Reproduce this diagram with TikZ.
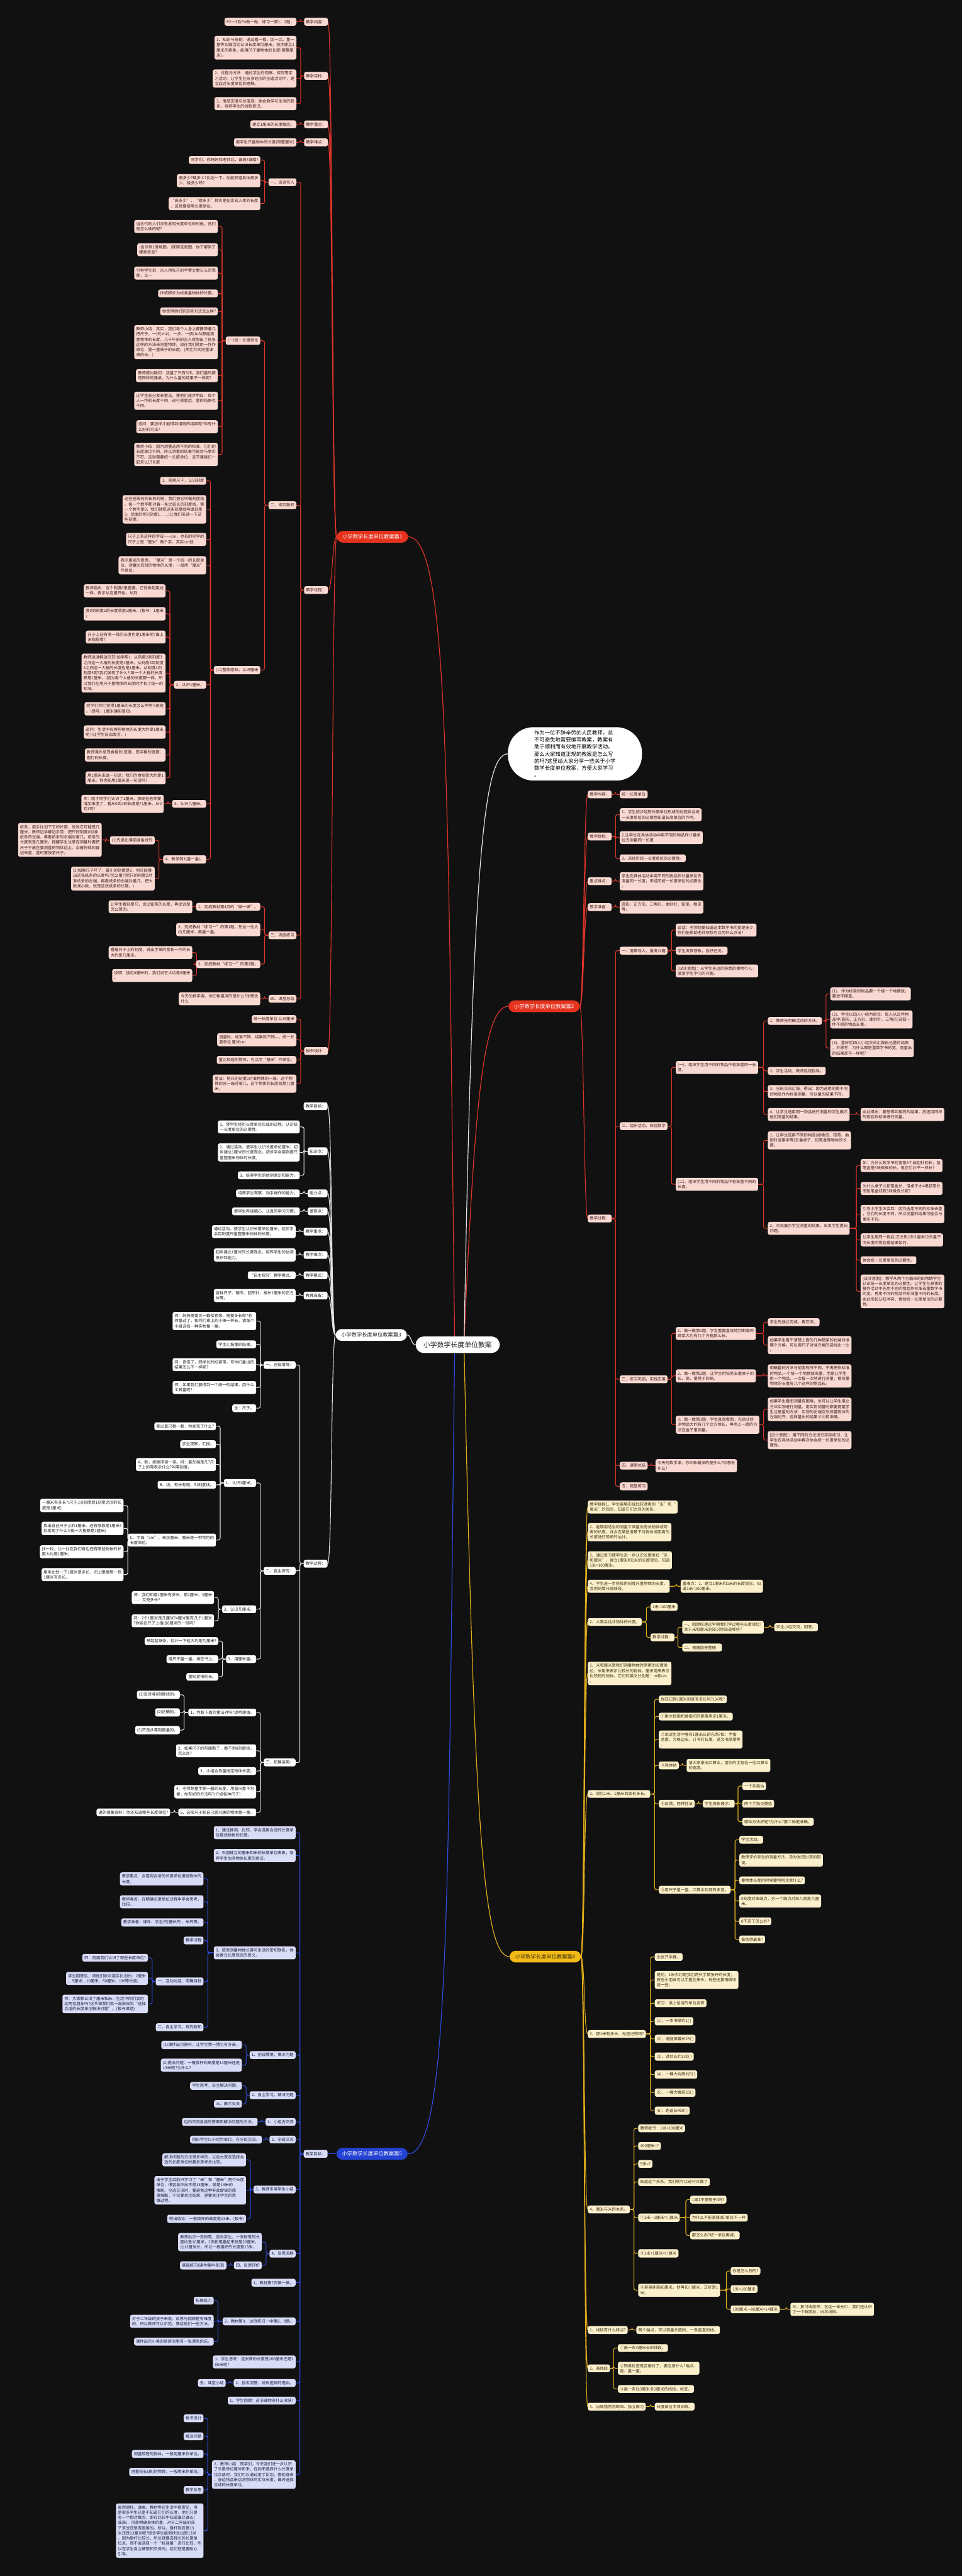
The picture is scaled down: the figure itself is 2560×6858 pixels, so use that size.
\documentclass[tikz,border=0pt]{standalone}
\usepackage{fontspec}
\setmainfont{Noto Sans CJK SC}
\usetikzlibrary{calc}
\definecolor{bgc}{HTML}{111111}
\definecolor{redL}{HTML}{E0352A}
\definecolor{redR}{HTML}{E6331E}
\definecolor{pinkF}{HTML}{FBD9D3}
\definecolor{pinkT}{HTML}{3A1E1C}
\definecolor{whiteL}{HTML}{E4E4E4}
\definecolor{whiteT}{HTML}{222222}
\definecolor{yelL}{HTML}{E2AE1C}
\definecolor{yelR}{HTML}{F2BA16}
\definecolor{creamF}{HTML}{FCF0CC}
\definecolor{creamT}{HTML}{3A2E12}
\definecolor{blueL}{HTML}{2F4CDD}
\definecolor{blueR}{HTML}{2443D4}
\definecolor{lavF}{HTML}{D9DCF7}
\definecolor{lavT}{HTML}{1C1F3C}
\pgfdeclarelayer{back}
\pgfdeclarelayer{lines}
\pgfsetlayers{back,lines,main}
\tikzset{
  lf/.style={rounded corners=2.5pt, inner xsep=2.6pt, inner ysep=2.7pt, align=left,
    font=\fontsize{5.3pt}{6.9pt}\selectfont},
  cn/.style={line width=0.9pt, rounded corners=2.5pt},
  rt/.style={rounded corners=8pt, inner xsep=7.5pt, inner ysep=4.6pt,
    font=\fontsize{6.9pt}{8pt}\selectfont},
}
\newcommand\NL[4]{\node[lf,anchor=east] (#1) at (#2,#3) {#4};}
\newcommand\NR[4]{\node[lf,anchor=west] (#1) at (#2,#3) {#4};}
\newcommand\LK[2]{\draw[cn] (#2.east) -- ++(11,0) |- (#1.west);}
\newcommand\RK[2]{\draw[cn] (#2.west) -- ++(-11,0) |- (#1.east);}
\newcommand\LC[2]{\draw[cn] (#1.west) .. controls +(-12,0) and +(12,0) .. (#2.east);}
\newcommand\RC[2]{\draw[cn] (#1.east) .. controls +(10,0) and +(-10,0) .. (#2.west);}
\begin{document}
\begin{tikzpicture}[x=0.5pt,y=-0.5pt]
\useasboundingbox (0,0) rectangle (2560,6858);
\begin{pgfonlayer}{back}
\fill[bgc] (0,0) rectangle (2560,6858);
\end{pgfonlayer}

% centre and intro
\node[fill=white, text=whiteT, rounded corners=11pt, inner xsep=10.5pt, inner ysep=6.8pt,
  font=\fontsize{9.1pt}{10pt}\selectfont] (ctr) at (1218,3580) {小学数学长度单位教案};
\node[fill=white, text=black, rounded corners=34pt, inner xsep=35pt, inner ysep=4.6pt, align=left,
  font=\fontsize{7pt}{9.25pt}\selectfont] (intro) at (1530,2007)
  {作为一位不辞辛劳的人民教师，总\\不可避免地需要编写教案，教案有\\助于顺利而有效地开展教学活动。\\那么大家知道正规的教案是怎么写\\的吗?这里给大家分享一些关于小学\\数学长度单位教案，方便大家学习\\。};

% ---------------- Branch 1 ----------------
\node[rt, fill=redR, text=white] (r1) at (991,1429) {小学数学长度单位教案篇1};
\begin{scope}[lf/.append style={fill=pinkF, text=pinkT}]
\NL{a1}{873}{58}{教学内容：}
\NL{a2}{873}{202}{教学目标：}
\NL{a3}{873}{331}{教学重点：}
\NL{a4}{873}{379}{教学难点：}
\NL{a5}{873}{1571}{教学过程：}
\NL{a6}{873}{2798}{板书设计：}
\NL{a11}{789}{58}{P2～3及P4做一做、练习一第1、2题。}
\NL{a21}{789}{127}{1、知识与技能：通过看一看、比一比、量一\\量等实践活动认识长度单位厘米，初步建立1\\厘米的表象，能用尺子量物体的长度(限整厘\\米)。}
\NL{a22}{789}{209}{2、过程与方法：通过学生的观察、探究等学\\习活动，让学生在亲身经历的创造活动中，建\\立起对长度单位的理解。}
\NL{a23}{789}{276}{3、情感态度与价值观：体会数学与生活的联\\系，培养学生的创新意识。}
\NL{a31}{789}{331}{建立1厘米的长度概念。}
\NL{a41}{789}{379}{用学生尺量物体的长度(限整厘米)}
\NL{a51}{789}{485}{一、谈话引入}
\NL{a52}{789}{1345}{二、探究新知}
\NL{a53}{789}{2490}{三、巩固练习}
\NL{a54}{789}{2659}{四、课堂总结}
\NL{a61}{789}{2713}{统一长度单位 认识厘米}
\NL{a62}{789}{2768}{测量时，标准不同，结果就不同—，统一长\\度单位 厘米cm}
\NL{a63}{789}{2822}{量比较短的物体，可以用“厘米”作单位。}
\NL{a64}{789}{2885}{量法：把尺的刻度0对准物体的一端，这个物\\体的另一端对着几，这个物体的长度就是几厘\\米。}
\NL{a511}{693}{426}{同学们，你妈妈和老师比，谁高?谁矮?}
\NL{a512}{693}{481}{高多少?矮多少?比划一下，你能知道具体高多\\少，矮多少吗?}
\NL{a513}{693}{542}{“高多少”，“矮多少”其实是在比较人体的长度\\，这就要使用长度单位。}
\NL{a521}{693}{907}{(一)统一长度单位}
\NL{a522}{693}{1784}{(二)整体感知，认识厘米}
\NL{a531}{693}{2414}{1、完成教材第4页的“做一做”。}
\NL{a532}{693}{2475}{2、完成教材“练习一”的第1题。先估一估大\\约几厘米，再量一量。}
\NL{a533}{693}{2567}{3、完成教材“练习一”的第2题。}
\NL{a541}{693}{2659}{今天的数学课，你印象最深的是什么?你想说\\什么}
\NL{b1}{580}{603}{当古代的人们没有发明长度单位的时候，他们\\是怎么做的呢?}
\NL{b2}{580}{665}{(出示例1情境图。)观察这些图，你了解到了\\哪些信息?}
\NL{b3}{580}{727}{引导学生说：古人用张开的手臂丈量石头的宽\\度，以一}
\NL{b4}{580}{781}{拃或脚长为标准量物体的长度。}
\NL{b5}{580}{829}{你觉得他们的这些方法怎么样?}
\NL{b6}{580}{911}{教师小结：其实，我们每个人身上都携带着几\\把尺子。一拃(zhǎ)、一步、一庹(tuǒ)都能测\\量物体的长度，几千年前的古人就想出了很多\\这样的方法来测量物体。现在我们就用一拃作\\单位，量一量桌子的长度。(师生共同测量课\\桌的长。)}
\NL{b7}{580}{1000}{教师提出疑问：我量了只有3拃。我们量的都\\是同样的课桌，为什么量的结果不一样呢?}
\NL{b8}{580}{1067}{让学生充分发表看法，使他们逐步明白：每个\\人一拃的长度不同，进行测量后，量的结果也\\不同。}
\NL{b9}{580}{1136}{追问：要怎样才能得到相同的结果呢?你有什\\么好的方法?}
\NL{b10}{580}{1210}{教师小结：因为测量选用不同的标准，它们的\\长度单位不同，所以测量的结果可能会与事实\\不符。这就需要统一长度单位，这节课我们一\\起来认识长度}
\NL{c1}{549}{1280}{1、观察尺子，认识刻度}
\NL{c2}{549}{1356}{这些竖线有的长有的短，我们把它叫做刻度线\\。每一个数字都对着一条比较长的刻度线，第\\一个数字是0，我们就把这条刻度线叫做刻度\\0。后面的呢?(刻度1……)让我们来读一下这\\些刻度。}
\NL{c3}{549}{1436}{尺子上有这样的字母——cm，也有的同学的\\尺子上是“厘米”两个字，其实cm就}
\NL{c4}{549}{1505}{表示厘米的意思。“厘米”是一个统一的长度单\\位。测量比较短的物体的长度，一般用“厘米”\\作单位。}
\NL{c5}{549}{1823}{2、认识1厘米。}
\NL{c6}{549}{2140}{3、认识几厘米。}
\NL{c7}{549}{2288}{4、教学例3(量一量)。}
\NL{d1}{441}{1573}{教师指出：这个刻度0很重要，它就像起跑线\\一样，表示从这里开始。从刻}
\NL{d2}{441}{1634}{度0到刻度1的长度就是1厘米。(板书：1厘米\\)}
\NL{d3}{441}{1696}{尺子上还有哪一段的长度也是1厘米呢?谁上\\来指指看?}
\NL{d4}{441}{1792}{教师边讲解边示范(加手势)：从刻度2到刻度3\\之间这一大格的长度是1厘米，从刻度3到刻度\\4之间这一大格的长度也是1厘米，从刻度4到\\刻度5呢?我们发现了什么?(每一个大格的长度\\都是1厘米。)因为每个大格的长度都一样，所\\以我们在用尺子量物体的长度时才有了统一的\\标准。}
\NL{d5}{441}{1887}{同学们你们觉得1厘米的长度怎么样啊?(很短\\。)是呀，1厘米确实很短。}
\NL{d6}{441}{1949}{追问：生活中有哪些物体的长度大约是1厘米\\呢?(让学生自由发言。)}
\NL{d7}{441}{2010}{教师课件呈现食指的.宽度、田字格的宽度、\\图钉的长度。}
\NL{d8}{441}{2071}{用1厘米来说一句话：我们的食指宽大约是1\\厘米。你也能用1厘米说一句话吗?}
\NL{e1}{436}{2140}{师：刚才同学们认识了1厘米，那现在老师要\\增加难度了，看从0到3的长度是几厘米，从0\\到7呢?}
\NL{f1}{412}{2237}{(1)先拿出课前准备好的}
\NL{f2}{412}{2339}{(2)如果尺子坏了，最小的刻度是2，你还能量\\出这张纸条的长度吗?怎么量?(把尺的刻度2对\\准纸条的左端，再看纸条的右端对着几，把大\\数减小数，就是这张纸条的长度。)}
\NL{g1}{271}{2236}{纸条，用手比划下它的长度，说说它可能是几\\厘米，教师边讲解边示范：把尺的刻度0对准\\纸条的左端，再看纸条的右端对着几，纸条的\\长度就是几厘米。提醒学生注意在测量时要把\\尺子平放在要测量的物体边上，沿着物体的直\\边来量，量时要按紧尺子。}
\NL{h1}{512}{2414}{让学生看刻度尺，说出铅笔的长度，再说说是\\怎么想的。}
\NL{h2}{512}{2536}{看着尺子上的刻度，说出手掌的宽和一拃的长\\大约是几厘米。}
\NL{h3}{512}{2597}{说明：接近8厘米的，我们说它大约是8厘米\\。}
\end{scope}

% ---------------- Branch 2 ----------------
\node[rt, fill=redR, text=white] (r2) at (1448,2679) {小学数学长度单位教案篇2};
\begin{scope}[lf/.append style={fill=pinkF, text=pinkT}]
\NR{p1}{1564}{2115}{教学内容：}
\NR{p2}{1564}{2227}{教学目标：}
\NR{p3}{1564}{2346}{重点难点：}
\NR{p4}{1564}{2415}{教学准备：}
\NR{p5}{1564}{3244}{教学过程：}
\NR{p11}{1649}{2115}{统一长度单位}
\NR{p21}{1649}{2169}{1、学生初步经历长度单位形成的过程体会统\\一长度单位的必要性知道长度单位的作用。}
\NR{p22}{1649}{2230}{2.让学生在具体活动中用不同的物品作计量单\\位去测量同一长度}
\NR{p23}{1649}{2285}{3、来经历统一长度单位的必要性。}
\NR{p31}{1649}{2346}{学生在具体活动中用不同的物品作计量单位去\\测量同一长度，来经历统一长度单位的必要性\\。}
\NR{p41}{1649}{2415}{圆形、正方形、三角形、曲别针、铅笔、橡皮\\等。}
\NR{p51}{1649}{2531}{一、情景导入，激发兴趣}
\NR{p52}{1649}{2998}{二、组织活动，体验数学}
\NR{p53}{1649}{3672}{三、练习巩固，实践应用}
\NR{p54}{1649}{3902}{四、课堂总结}
\NR{p55}{1649}{3957}{五、随堂练习}
\NR{q1}{1798}{2476}{谈话：老师想要知道这本数学书的宽是多少,\\你们能帮助老师想想可以用什么办法?}
\NR{q2}{1798}{2531}{学生发挥想象，各抒己见。}
\NR{q3}{1798}{2585}{[设计意图]：从学生身边的熟悉的事物引入，\\激发学生学习的兴趣。}
\NR{q4}{1798}{2842}{(一)、组织学生用不同的物品作标准量同一长\\度。}
\NR{q5}{1798}{3153}{(二)、组织学生用不同的物品作标准量不同的\\长度。}
\NR{q6}{1798}{3550}{1、做一做第1题，学生看图直观地判断每种\\蔬菜大约有几个方格那么长。}
\NR{q7}{1798}{3663}{2、做一做第2题，让学生用铅笔去量桌子的\\长、高，量凳子的高。}
\NR{q8}{1798}{3793}{3、做一做第3题，学生直观看图，先估计所\\测物品大约有几个立方体长，再用上一题的方\\法在盒子里测量。}
\NR{q9}{1744}{3902}{今天的数学课，你印象最深的是什么?你想说\\什么?}
\NR{s1}{2043}{2718}{1、教师先明确活动的方法。}
\NR{s2}{2043}{2851}{2、学生活动，教师巡视指导。}
\NR{s3}{2043}{2906}{3、全班交流汇报。得出：因为选用的是不同\\的物品作为标准测量，所以量的结果不同。}
\NR{s4}{2043}{2967}{4、让学生选用同一物品进行测量的学生展示\\他们测量的结果。}
\NR{s5}{2043}{3036}{1、让学生选用不同的物品(如橡皮、铅笔、曲\\别针或用手等)去量桌子、铅笔盒等物体的长\\度。}
\NR{s6}{2043}{3270}{2、交流展示学生测量的结果，启发学生提出\\问题。}
\NR{s7}{2043}{3520}{学生先独立完成，再交流。}
\NR{s8}{2043}{3581}{如果学生看不清楚上面的几种蔬菜的右端对准\\哪个方格，可以用尺子对准方格的竖线比一比\\。}
\NR{s9}{2043}{3663}{明确量的方法与前面有所不同，不再把作标准\\的物品,一个接一个地摆放来量，而是让学生\\用一个物品，一次接一次地进行测量，看所量\\物体的长度有几个这样的物品长。}
\NR{s10}{2043}{3752}{如果学生看图测量有困难，也可以让学生用立\\方体实物进行测量。用实物测量时都要提醒学\\生注意量的方法：实物的左端应与所量物体的\\左端对齐，这样量出的结果才比较准确。}
\NR{s11}{2043}{3834}{[设计意图]：用不同的方法进行实际练习，让\\学生在具体活动中再次体会统一长度单位的必\\要性。}
\NR{t1}{2209}{2646}{(1)、作为标准的物品要一个接一个地摆放，\\要放平摆直。}
\NR{t2}{2209}{2714}{(2)、学生以四人小组为单位，每人从四件物\\品中(圆形、正方形、曲别针、三角形)选取一\\件不同的物品去量。}
\NR{t3}{2209}{2790}{(3)、量好后四人小组交流汇报自己量的结果\\，并思考：为什么都是量数学书的宽，而量出\\的结果却不一样呢?}
\NR{t4}{2290}{2967}{由此得出：要想得到相同的结果，应选用同样\\的物品作标准进行测量。}
\NR{t5}{2290}{3103}{如：为什么数学书的宽是5个曲别针的长，铅\\笔盒是5块橡皮的长，但它们并不一样长?}
\NR{t6}{2290}{3164}{为什么桌子比铅笔盒长，但桌子才4根铅笔长\\而铅笔盒却有5块橡皮长呢?}
\NR{t7}{2290}{3232}{引导小学生体会到：因为选用不同的标准去量\\，它们的长度不同，所以测量的结果可能会与\\事实不符。}
\NR{t8}{2290}{3301}{让学生用同一物品(正方形)作计量单位去量不\\同长度的物品看结果如何，}
\NR{t9}{2290}{3355}{体会统一长度单位的必要性。}
\NR{t10}{2290}{3438}{[设计意图]：教学从两个方面来组织帮助学生\\认识统一长度单位的必要性。让学生在具体的\\操作活动中先用不同的物品作标准去量数学书\\的宽，再用不同的物品作标准量不同的长度。\\由此引起认知冲突，体验统一长度单位的必要\\性。}
\end{scope}

% ---------------- Branch 3 ----------------
\node[rt, fill=white, text=whiteT] (r3) at (988,3554) {小学数学长度单位教案篇3};
\begin{scope}[lf/.append style={fill=white, text=whiteT}]
\NL{w1}{872}{2945}{教学目标：}
\NL{w2}{872}{3065}{知识点：}
\NL{w3}{872}{3177}{能力点：}
\NL{w4}{872}{3225}{德育点：}
\NL{w5}{872}{3279}{教学重点：}
\NL{w6}{872}{3341}{教学难点：}
\NL{w7}{872}{3395}{教学模式：}
\NL{w8}{872}{3449}{教具准备：}
\NL{w9}{872}{4163}{教学过程：}
\NL{w21}{798}{3000}{1、使学生经历长度单位形成的过程，认识统\\一长度单位的必要性。}
\NL{w22}{798}{3068}{2、通过活动，使学生认识长度单位厘米，初\\步建立1厘米的长度观念，初步学会用刻度尺\\量整厘米物体的长度。}
\NL{w23}{798}{3129}{3、培养学生的估测意识和能力。}
\NL{w31}{798}{3177}{培养学生观察、动手操作的能力。}
\NL{w41}{798}{3225}{使学生养成细心、认真的学习习惯。}
\NL{w51}{787}{3279}{通过活动，使学生认识长度单位厘米，初步学\\会用刻度尺量整厘米物体的长度。}
\NL{w61}{787}{3341}{初步建立1厘米的长度观念，培养学生的估测\\意识和能力。}
\NL{w71}{787}{3395}{“自主探究”教学模式。}
\NL{w81}{787}{3449}{各种尺子、硬币、回形针、棱长1厘米的正方\\体等。}
\NL{w91}{787}{3634}{一、创设情境：}
\NL{w92}{787}{4182}{二、自主探究：}
\NL{w93}{787}{4692}{三、拓展运用：}
\NL{x1}{682}{3517}{师：妈妈需要买一截松紧带，需要多长呢?老\\师量过了，和你们桌上的小棒一样长，请每个\\小组选择一种实物量一量。}
\NL{x2}{682}{3579}{学生汇报量的结果。}
\NL{x3}{682}{3633}{问：奇怪了，同样长的松紧带，可你们量出的\\结果怎么不一样呢?}
\NL{x4}{682}{3694}{师：如果我们要得到一个统一的结果，用什么\\工具量呢?}
\NL{x5}{682}{3749}{生：尺子。}
\NL{y1}{682}{3948}{1、认识1厘米。}
\NL{y2}{682}{4284}{2、认识几厘米。}
\NL{y3}{682}{4417}{3、用厘米量。}
\NL{y11}{575}{3797}{拿出直尺看一看，你发现了什么?}
\NL{y12}{575}{3845}{学生观察，汇报。}
\NL{y13}{575}{3899}{A、数，按顺序读一读。问：最左端是几?尺\\子上的零表示什么?叫零刻度。}
\NL{y14}{575}{3953}{B、线，有长有短，叫刻度线。}
\NL{y15}{575}{4100}{C、字母“cm”，表示厘米，厘米是一种常用的\\长度单位。}
\NL{y151}{329}{4008}{一厘米有多长?(尺子上0刻度到1刻度之间的长\\度是1厘米)}
\NL{y152}{329}{4069}{找出自己尺子上的1厘米。还有哪段是1厘米?\\你发现了什么?(每一大格都是1厘米)}
\NL{y153}{329}{4131}{找一找，比一比在我们身边还有哪些物体的长\\度大约是1厘米。}
\NL{y154}{329}{4192}{用手比划一下1厘米是多长，闭上眼睛想一想\\1厘米有多长。}
\NL{y21}{570}{4253}{师：我们知道1厘米有多长，那2厘米、3厘米\\……又是多长?}
\NL{y22}{570}{4315}{问：2个1厘米是几厘米?4厘米里有几个1厘米\\?你能在尺子上指出6厘米的一段吗?}
\NL{y31}{581}{4369}{举起蓝纸条，估计一下他大约是几厘米?}
\NL{y32}{581}{4417}{用尺子量一量。填在书上。}
\NL{y33}{581}{4464}{量松紧带的长。}
\NL{z1}{682}{4559}{1、判断下面的量法对吗?说明理由。}
\NL{z2}{682}{4661}{2、如果尺子的前面断了，看不到0刻度线，\\怎么办?}
\NL{z3}{682}{4715}{3、小组合作量指定物体长度。}
\NL{z4}{682}{4770}{4、老师想量手腕一圈的长度，用直尺量不方\\便，你有好的方法吗?(介绍各种尺子)}
\NL{z5}{682}{4825}{5、选择尺子和自己感兴趣的物体量一量。}
\NL{z11}{479}{4512}{(1)没对准0刻度线的。}
\NL{z12}{479}{4559}{(2)正确的。}
\NL{z13}{479}{4606}{(3)不是从零刻度量的。}
\NL{z51}{453}{4825}{课外搜集资料：你还知道哪些长度单位?}
\end{scope}

% ---------------- Branch 4 ----------------
\node[rt, fill=yelR, text=creamT] (r4) at (1451,5209) {小学数学长度单位教案篇4};
\begin{scope}[lf/.append style={fill=creamF, text=creamT}]
\NR{k1}{1564}{4012}{教学目标1、学生能够形成比较清晰的“米”和“\\厘米”的观念，知道它们之间的关系。}
\NR{k2}{1564}{4079}{2、能够用适当的测量工具量出有关物体或距\\离的长度。并会在某些情景下对物体或距离的\\长度进行简单的估计。}
\NR{k3}{1564}{4154}{3、通过复习使学生进一步认识长度单位“米\\和厘米”，建立1厘米和1米的长度观念。知道\\1米=100厘米。}
\NR{k4}{1564}{4223}{4、学生进一步熟练用刻度尺量物体的长度，\\会用刻度尺画线段。}
\NR{k5}{1564}{4318}{2、大致会估计物体的长度。}
\NR{k6}{1564}{4455}{1、米和厘米是我们测量物体时常用的长度单\\位，米用来表示比较长的物体，厘米用来表示\\比较短的物体。它们的英文分别是：m和cm\\。}
\NR{k7}{1564}{4776}{2、回忆1米、1厘米到底有多长。}
\NR{k8}{1564}{5415}{3、那1米有多长，你还记得吗?}
\NR{k9}{1564}{5882}{4、厘米与米的关系。}
\NR{k10}{1564}{6203}{1、线段有什么特点?}
\NR{k11}{1564}{6305}{2、画线段}
\NR{k12}{1564}{6407}{3、出现错例判断四、独立练习}
\NR{k41}{1811}{4223}{重难点：1、建立1厘米和1米的长度观念。知\\道1米=100厘米。}
\NR{k51}{1731}{4278}{1米=100厘米}
\NR{k52}{1731}{4359}{教学过程：}
\NR{k521}{1815}{4332}{一、回顾梳理这学期我们学过哪些长度单位?\\关于米和厘米的知识你知道哪些?}
\NR{k522}{1815}{4386}{二、根据回答整理：}
\NR{k5211}{2060}{4332}{学生小组交流，回答。}
\NR{k71}{1753}{4524}{你还记得1厘米到底有多长吗?1米呢?}
\NR{k72}{1753}{4570}{①用大拇指和食指间的距离表示1厘米。}
\NR{k73}{1753}{4631}{②说说生活中哪有1厘米长的东西?如：手指\\宽度，方格边长，订书钉长度，语文书厚度等\\。}
\NR{k74}{1753}{4700}{③具体估}
\NR{k75}{1753}{4802}{④反馈，两种估法}
\NR{k76}{1753}{5031}{⑤用尺子量一量，口算本到底有多宽。}
\NR{k741}{1827}{4700}{请大家拿出口算本，用你的手指估一估口算本\\的宽度。}
\NR{k751}{1870}{4802}{学生投影展示：}
\NR{k7511}{1975}{4755}{一个手指估}
\NR{k7512}{1975}{4802}{两个手指交替估}
\NR{k7513}{1975}{4850}{哪种方法好呢?为什么?第二种更准确。}
\NR{k761}{1967}{4898}{学生活动。}
\NR{k762}{1967}{4952}{教师评价学生的测量方法，及时发现出现的错\\误。}
\NR{k763}{1967}{5006}{量物体长度的时候要特别注意什么?}
\NR{k764}{1967}{5061}{0刻度对准端点，另一个端点对准几就是几厘\\米。}
\NR{k765}{1967}{5115}{0不见了怎么办?}
\NR{k766}{1967}{5163}{谁估得最准?}
\NR{k81}{1742}{5210}{生张开手臂。}
\NR{k82}{1742}{5271}{是的，1米大约是我们两只手臂张开的长度，\\有些小朋友可以手握住拳头，有些还要稍微收\\拢一些。}
\NR{k83}{1742}{5333}{练习：填上恰当的单位名称}
\NR{k84}{1742}{5381}{(1)、一本书厚约1( )}
\NR{k85}{1742}{5428}{(2)、电脑屏幕长25( )}
\NR{k86}{1742}{5475}{(3)、讲台长约130( )}
\NR{k87}{1742}{5523}{(4)、一棵大树高约5( )}
\NR{k88}{1742}{5571}{(5)、一幢大楼高20( )}
\NR{k89}{1742}{5619}{(6)、跑道长400( )}
\NR{k91}{1698}{5666}{教师板书：1米=100厘米}
\NR{k92}{1698}{5713}{400厘米=?}
\NR{k93}{1698}{5761}{5米=?}
\NR{k94}{1698}{5809}{知道这个关系，我们就可以进行计算了}
\NR{k95}{1698}{5904}{①1米—1厘米=( )厘米}
\NR{k96}{1698}{5999}{②1米+1厘米=( )厘米}
\NR{k97}{1698}{6097}{③弟弟身高86厘米，他再长( )厘米，正好是1\\米。}
\NR{k951}{1836}{5856}{1减1不是等于0吗?}
\NR{k952}{1836}{5904}{为什么不能直接减?单位不一样}
\NR{k953}{1836}{5951}{那怎么办?统一单位再减。}
\NR{k971}{1944}{6046}{你是怎么想的?}
\NR{k972}{1944}{6094}{1米=100厘米}
\NR{k973}{1944}{6148}{100厘米—86厘米=14厘米}
\NR{k9731}{2103}{6148}{三、复习线段师：在这一单元中，我们还认识\\了一个新朋友，出示线段。}
\NR{k101}{1693}{6203}{两个端点，可以测量长度的，一条直直的线。}
\NR{k111}{1644}{6251}{①画一条4厘米长的线段。}
\NR{k112}{1644}{6305}{②同桌检查是否画对了。要注意什么?端点、\\直、量一量。}
\NR{k113}{1644}{6360}{③画一条比3厘米多2厘米的线段。检查。}
\NR{k121}{1742}{6407}{长度单位专项训练。}
\end{scope}

% ---------------- Branch 5 ----------------
\node[rt, fill=blueR, text=white] (r5) at (990,5734) {小学数学长度单位教案篇5};
\begin{scope}[lf/.append style={fill=lavF, text=lavT}]
\NL{v0}{872}{5734}{教学目标：}
\NL{v1}{787}{4879}{1、通过推测、比较，学会选用合适的长度单\\位描述物体的长度。}
\NL{v2}{787}{4940}{2、巩固建立的厘米和米的长度单位表象，培\\养学生估测物体长度的意识。}
\NL{v3}{787}{5199}{3、感受测量物体长度与生活的密切联系，体\\会建立长度观念的意义。}
\NL{v4}{787}{5471}{1、创设情境，揭示问题}
\NL{v5}{787}{5578}{2、自主学习，解决问题}
\NL{v6}{787}{5649}{1、小组内交流}
\NL{v7}{787}{5696}{2、全班交流}
\NL{v8}{787}{5829}{3、教师引导学生小结}
\NL{v9}{787}{6000}{4、反思回顾}
\NL{v10}{787}{6077}{1、教材第7页做一做。}
\NL{v11}{787}{6180}{2、教材第9、10页练习一中第8、9题。}
\NL{v12}{787}{6288}{1、学生思考：这张床的长度是200厘米还是2\\00米呢?}
\NL{v13}{787}{6344}{2、指名回答，说说选择的理由。}
\NL{v14}{787}{6391}{1、学生回顾：这节课你有什么收获?}
\NL{v15}{787}{6588}{2、教师小结：同学们，今天我们进一步认识\\了长度单位厘米和米，在判断选择什么长度单\\位合适时，我们可以通过用手比划，借助身高\\、身边物品来估测物体的实际长度，最终选择\\合适的长度单位。}
\NL{v31}{542}{5002}{教学重点：会选用合适的长度单位描述物体的\\长度。}
\NL{v32}{542}{5063}{教学难点：在明确长度单位过程中学会思考，\\比较。}
\NL{v33}{542}{5118}{教学准备：课件、学生尺(厘米尺)、米尺等。}
\NL{v34}{542}{5166}{教学过程}
\NL{v35}{542}{5275}{一、互动对话，明确目标}
\NL{v36}{542}{5397}{二、自主学习，探究新知}
\NL{v351}{394}{5212}{师：前面我们认识了哪些长度单位?}
\NL{v352}{394}{5267}{学生回答后，请他们依次用手比划出：2厘米\\、5厘米、10厘米、50厘米、1米等长度。}
\NL{v353}{394}{5335}{师：大家都认识了厘米和米，生活中你们会用\\这两位朋友吗?这节课我们就一起来探究“选择\\合适的长度单位解决问题”。(板书课题)}
\NL{v41}{644}{5444}{(1)课件出示旗杆，让学生猜一猜它有多高。}
\NL{v42}{644}{5498}{(2)提出问题：一根旗杆的高度是13厘米还是\\13米呢?为什么?}
\NL{v51}{644}{5553}{学生思考，自主解决问题。}
\NL{v52}{644}{5601}{三、展示交流}
\NL{v61}{686}{5649}{组内交流各自的答案和解决问题的方法。}
\NL{v71}{697}{5696}{组织学生以小组为单位，在全班交流。}
\NL{v81}{655}{5750}{解决问题的方法是多样的，以后大家在选择合\\适的长度单位时要多思考多比较。}
\NL{v82}{655}{5831}{由于学生目前只学习了“米”和“厘米”两个长度\\单位，很容易作出不是13厘米，就是13米的\\推断。全班交流时，要避免这种非此即彼的简\\单推断，不仅要关注结果，更要关注学生的思\\维过程。}
\NL{v83}{655}{5907}{得出结论：一根旗杆的高度是13米。(板书)}
\NL{v91}{697}{5969}{教师出示一支粉笔，告诉学生，一支粉笔的长\\度约是10厘米，2支粉笔叠起来就是20厘米，\\比13厘米长，所以一根旗杆的长度是13米。}
\NL{v92}{697}{6031}{四、反馈评价}
\NL{v921}{603}{6031}{基础练习(课件集中呈现)}
\NL{v111}{569}{6125}{拓展练习}
\NL{v112}{569}{6180}{对于二年级的孩子来说，反思与回顾是有难度\\的，所以教师可以示范，教给他们一些方法。}
\NL{v113}{569}{6234}{课件出示小美的新房间里有一张漂亮的床。}
\NL{v131}{601}{6344}{五、课堂小结}
\NL{v151}{542}{6438}{板书设计}
\NL{v152}{542}{6486}{解决问题}
\NL{v153}{542}{6533}{测量较短的物体，一般用厘米作单位。}
\NL{v154}{542}{6581}{测量较长(高)的物体，一般用米作单位。}
\NL{v155}{542}{6629}{教学反思}
\NL{v156}{542}{6737}{虽然旗杆、课桌、教材等在生活中很常见，但\\是很多学生还是不知道它们的长度，他们只是\\有一个相对概念，即在比较中知道谁比谁长(\\或高)，但是明确具体的量，对于二年级的孩\\子来说还是有困难的。所以，旗杆到底是13\\米还是13厘米呢?很多学生能很快说出是13米\\，因为旗杆比较长，所以就要选择长的长度单\\位米，而不会选择一个“标准量”进行比较，所\\以在学生自主解答和交流时，我们还是要耐心\\引导。}
\end{scope}

% ---------------- connectors ----------------
\begin{pgfonlayer}{lines}
% centre links
\draw[line width=1pt, redL] (1210,3575) .. controls (1192,2100) and (1195,1429) .. (r1.east);
\draw[line width=1pt, redL] (1235,3575) .. controls (1262,2950) and (1285,2679) .. (r2.west);
\draw[line width=1pt, whiteL] (1235,3575) .. controls (1258,2250) and (1290,2008) .. (intro.west);
\draw[line width=1pt, whiteL] (r3.east) .. controls +(12,0) and +(-12,0) .. (ctr.west);
\draw[line width=1pt, yelL] (1235,3585) .. controls (1262,4850) and (1285,5209) .. (r4.west);
\draw[line width=1pt, blueL] (1210,3585) .. controls (1192,5100) and (1195,5734) .. (r5.east);

\begin{scope}[cn/.append style={draw=redL}]
\foreach \c in {a1,a2,a3,a4,a5,a6} {\LC{r1}{\c}}
\LK{a1}{a11}
\foreach \c in {a21,a22,a23} {\LK{a2}{\c}}
\LK{a3}{a31} \LK{a4}{a41}
\foreach \c in {a51,a52,a53,a54} {\LK{a5}{\c}}
\foreach \c in {a61,a62,a63,a64} {\LK{a6}{\c}}
\foreach \c in {a511,a512,a513} {\LK{a51}{\c}}
\foreach \c in {a521,a522} {\LK{a52}{\c}}
\foreach \c in {a531,a532,a533} {\LK{a53}{\c}}
\LK{a54}{a541}
\foreach \c in {b1,b2,b3,b4,b5,b6,b7,b8,b9,b10} {\LK{a521}{\c}}
\foreach \c in {c1,c2,c3,c4,c5,c6,c7} {\LK{a522}{\c}}
\foreach \c in {d1,d2,d3,d4,d5,d6,d7,d8} {\LK{c5}{\c}}
\LK{c6}{e1}
\foreach \c in {f1,f2} {\LK{c7}{\c}}
\LK{f1}{g1}
\LK{a531}{h1}
\foreach \c in {h2,h3} {\LK{a533}{\c}}
\foreach \c in {p1,p2,p3,p4,p5} {\RC{r2}{\c}}
\RK{p1}{p11}
\foreach \c in {p21,p22,p23} {\RK{p2}{\c}}
\RK{p3}{p31} \RK{p4}{p41}
\foreach \c in {p51,p52,p53,p54,p55} {\RK{p5}{\c}}
\foreach \c in {q1,q2,q3} {\RK{p51}{\c}}
\foreach \c in {q4,q5} {\RK{p52}{\c}}
\foreach \c in {q6,q7,q8} {\RK{p53}{\c}}
\RK{p54}{q9}
\foreach \c in {s1,s2,s3,s4} {\RK{q4}{\c}}
\foreach \c in {s5,s6} {\RK{q5}{\c}}
\foreach \c in {s7,s8} {\RK{q6}{\c}}
\RK{q7}{s9}
\foreach \c in {s10,s11} {\RK{q8}{\c}}
\foreach \c in {t1,t2,t3} {\RK{s1}{\c}}
\RK{s4}{t4}
\foreach \c in {t5,t6,t7,t8,t9,t10} {\RK{s6}{\c}}
\end{scope}

\begin{scope}[cn/.append style={draw=whiteL}]
\foreach \c in {w1,w2,w3,w4,w5,w6,w7,w8,w9} {\LC{r3}{\c}}
\foreach \c in {w21,w22,w23} {\LK{w2}{\c}}
\LK{w3}{w31} \LK{w4}{w41} \LK{w5}{w51} \LK{w6}{w61} \LK{w7}{w71} \LK{w8}{w81}
\foreach \c in {w91,w92,w93} {\LK{w9}{\c}}
\foreach \c in {x1,x2,x3,x4,x5} {\LK{w91}{\c}}
\foreach \c in {y1,y2,y3} {\LK{w92}{\c}}
\foreach \c in {z1,z2,z3,z4,z5} {\LK{w93}{\c}}
\foreach \c in {y11,y12,y13,y14,y15} {\LK{y1}{\c}}
\foreach \c in {y151,y152,y153,y154} {\LK{y15}{\c}}
\foreach \c in {y21,y22} {\LK{y2}{\c}}
\foreach \c in {y31,y32,y33} {\LK{y3}{\c}}
\foreach \c in {z11,z12,z13} {\LK{z1}{\c}}
\LK{z5}{z51}
\end{scope}

\begin{scope}[cn/.append style={draw=yelL}]
\foreach \c in {k1,k2,k3,k4,k5,k6,k7,k8,k9,k10,k11,k12} {\RC{r4}{\c}}
\RK{k4}{k41}
\foreach \c in {k51,k52} {\RK{k5}{\c}}
\foreach \c in {k521,k522} {\RK{k52}{\c}}
\RK{k521}{k5211}
\foreach \c in {k71,k72,k73,k74,k75,k76} {\RK{k7}{\c}}
\RK{k74}{k741} \RK{k75}{k751}
\foreach \c in {k7511,k7512,k7513} {\RK{k751}{\c}}
\foreach \c in {k761,k762,k763,k764,k765,k766} {\RK{k76}{\c}}
\foreach \c in {k81,k82,k83,k84,k85,k86,k87,k88,k89} {\RK{k8}{\c}}
\foreach \c in {k91,k92,k93,k94,k95,k96,k97} {\RK{k9}{\c}}
\foreach \c in {k951,k952,k953} {\RK{k95}{\c}}
\foreach \c in {k971,k972,k973} {\RK{k97}{\c}}
\RK{k973}{k9731}
\RK{k10}{k101}
\foreach \c in {k111,k112,k113} {\RK{k11}{\c}}
\RK{k12}{k121}
\end{scope}

\begin{scope}[cn/.append style={draw=blueL}]
\LC{r5}{v0}
\foreach \c in {v1,v2,v3,v4,v5,v6,v7,v8,v9,v10,v11,v12,v13,v14,v15} {\LK{v0}{\c}}
\foreach \c in {v31,v32,v33,v34,v35,v36} {\LK{v3}{\c}}
\foreach \c in {v351,v352,v353} {\LK{v35}{\c}}
\foreach \c in {v41,v42} {\LK{v4}{\c}}
\foreach \c in {v51,v52} {\LK{v5}{\c}}
\LK{v6}{v61} \LK{v7}{v71}
\foreach \c in {v81,v82,v83} {\LK{v8}{\c}}
\foreach \c in {v91,v92} {\LK{v9}{\c}}
\LK{v92}{v921}
\foreach \c in {v111,v112,v113} {\LK{v11}{\c}}
\LK{v13}{v131}
\foreach \c in {v151,v152,v153,v154,v155,v156} {\LK{v15}{\c}}
\end{scope}
\end{pgfonlayer}
\end{tikzpicture}
\end{document}
